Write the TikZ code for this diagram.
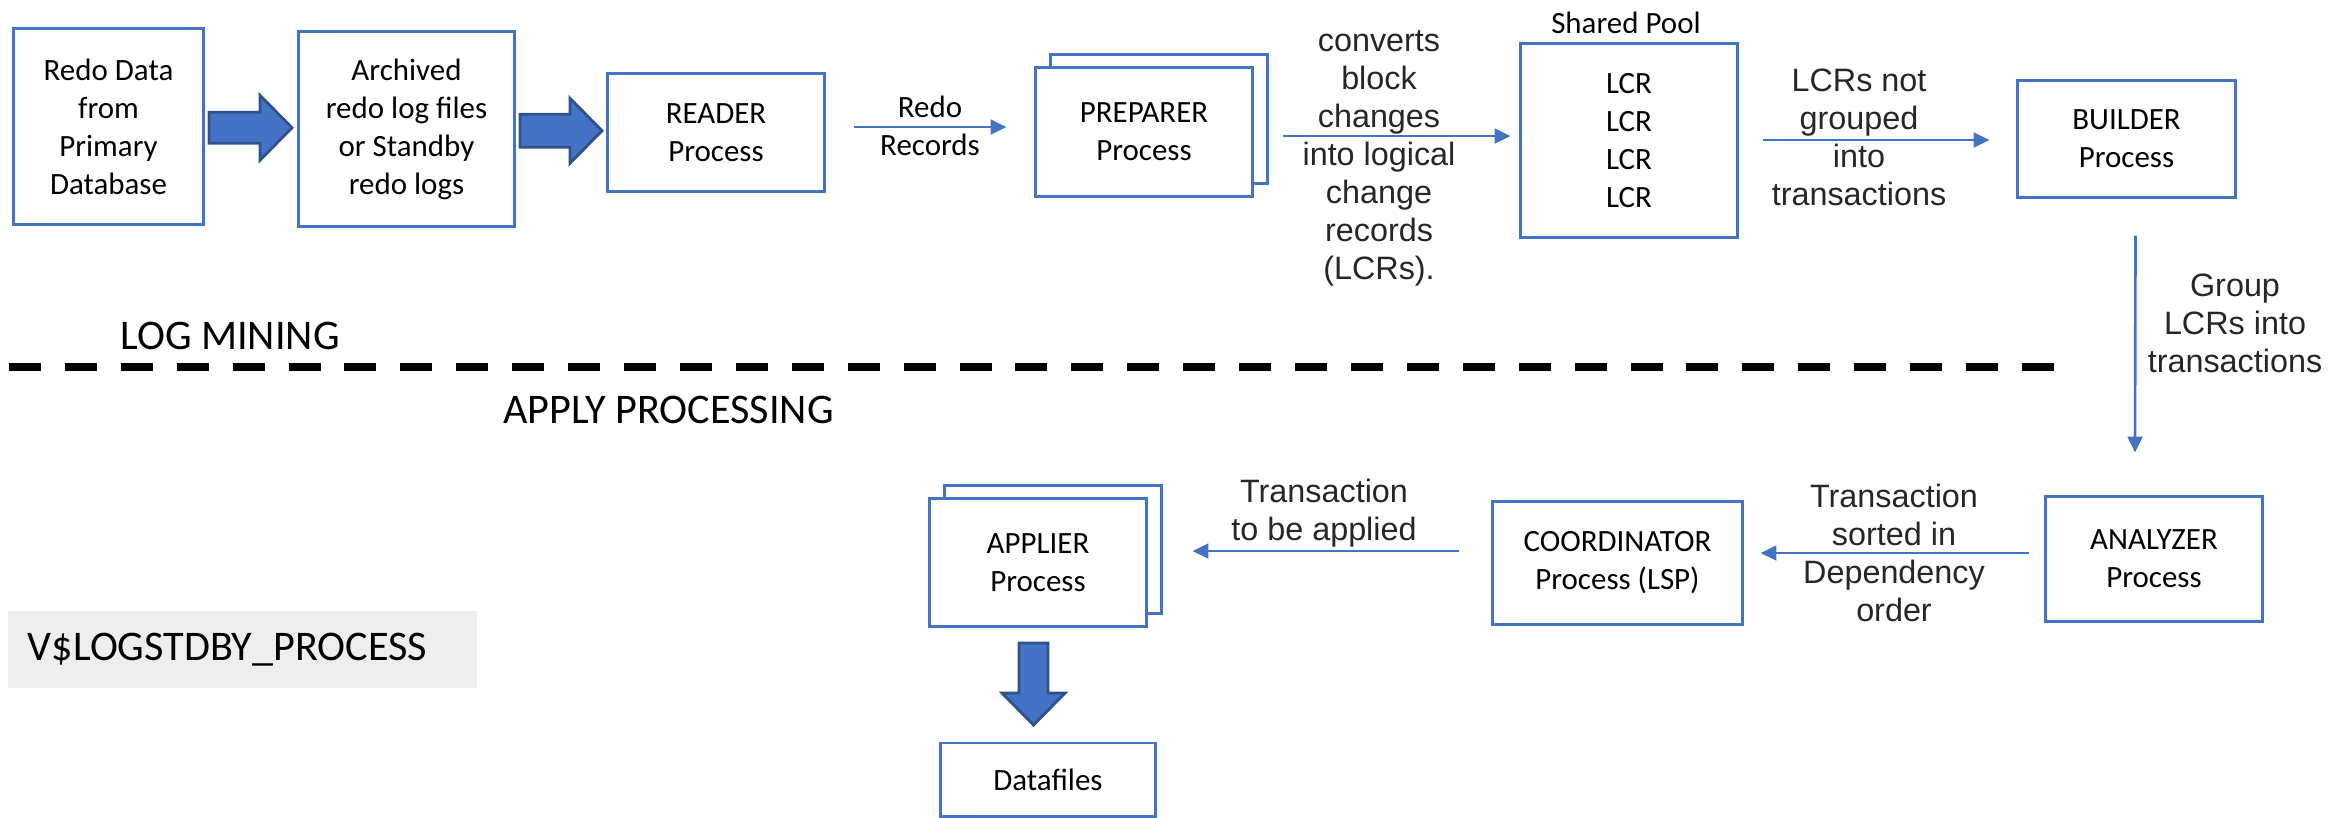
\documentclass[tikz,border=0pt]{standalone}
\usepackage{fontspec}
\setmainfont{Carlito}
\newfontfamily\labelfont{Liberation Sans}
\usetikzlibrary{arrows.meta,positioning,calc}
\definecolor{OfficeBlue}{RGB}{68,114,196}
\definecolor{ArrowEdge}{RGB}{47,82,143}
\definecolor{PanelGray}{RGB}{238,238,238}
\definecolor{Ink}{RGB}{38,38,38}
\tikzset{
  >=Latex,
  box/.style={draw=OfficeBlue,line width=.85pt,fill=white,align=center,text=black,font=\fontsize{8.8}{10.8}\selectfont,inner sep=0pt},
  boxtext/.style={align=center,text=black,font=\fontsize{8.8}{10.8}\selectfont,inner sep=0pt},
  note/.style={align=center,text=Ink,font=\labelfont\fontsize{9.2}{10.8}\selectfont,inner sep=0pt},
  heading/.style={text=black,font=\fontsize{12}{14}\selectfont,inner sep=0pt},
  panel/.style={fill=PanelGray,minimum height=.77cm,text width=4.29cm,inner xsep=.2cm,inner ysep=0pt,align=left,font=\fontsize{12}{14}\selectfont},
  flow/.style={-{Triangle[length=4.5pt,width=4.2pt]},line width=.75pt,draw=OfficeBlue},
  blockarrow/.style={draw=ArrowEdge,fill=OfficeBlue,line width=.8pt,line join=miter},
  divider/.style={line width=2.1pt,dash pattern=on 9.1pt off 6.8pt}
}

\begin{document}
\begin{tikzpicture}[x=.01cm,y=-.01cm]
  \useasboundingbox (0,0) rectangle (2348,817);
  % log mining row
  \node[box,minimum width=1.89cm,minimum height=1.95cm] (src) at (108.5,126.5) {Redo Data\\from\\Primary\\Database};
  \node[box,minimum width=2.15cm,minimum height=1.94cm] (arch) at (406.5,129) {Archived\\redo log files\\or Standby\\redo logs};
  \node[box,minimum width=2.16cm,minimum height=1.17cm] (reader) at (716,132.5) {READER\\Process};
  \node[box,minimum width=2.16cm,minimum height=1.28cm] (prepback) at (1159,119) {};
  \node[box,minimum width=2.16cm,minimum height=1.28cm] (prep) at (1144,132) {PREPARER\\Process};
  \node[box,minimum width=2.16cm,minimum height=1.93cm] (pool) at (1629,140.5) {LCR\\LCR\\LCR\\LCR};
  \node[boxtext] (poolname) at (1626,23) {Shared Pool};
  \node[box,minimum width=2.17cm,minimum height=1.16cm] (builder) at (2126.5,139) {BUILDER\\Process};
  % apply row
  \node[box,minimum width=2.16cm,minimum height=1.24cm] (analyzer) at (2154,559) {ANALYZER\\Process};
  \node[box,minimum width=2.49cm,minimum height=1.22cm] (coord) at (1617.5,563) {COORDINATOR\\Process (LSP)};
  \node[box,minimum width=2.16cm,minimum height=1.27cm] (applback) at (1053,549.5) {};
  \node[box,minimum width=2.16cm,minimum height=1.27cm] (appl) at (1038,562.5) {APPLIER\\Process};
  \node[box,minimum width=2.14cm,minimum height=.73cm] (data) at (1048,779.5) {Datafiles};
  \node[panel] (view) at (242.5,649.5) {V\$LOGSTDBY\_PROCESS};

  % section split
  \node[heading] (mining) at (230,336) {LOG MINING};
  \node[heading] (applying) at (668.5,410) {APPLY PROCESSING};
  \draw[divider] (9,367) -- (2058,367);

  % fat arrows
  \coordinate (a1) at ($(src.east)!.5!(arch.west)$);
  \coordinate (a2) at ($(arch.east)!.5!(reader.west)$);
  \coordinate (a3) at ($(appl.south)!.5!(data.north)+(-9.5,0)$);
  \draw[blockarrow,shift={(a1)}] (-42,-15.5) -- (9,-15.5) -- (9,-32.5) -- (41,0) -- (9,32.5) -- (9,15.5) -- (-42,15.5) -- cycle;
  \draw[blockarrow,shift={(a2)}] (-41,-16.5) -- (9,-16.5) -- (9,-32.5) -- (41,0) -- (9,32.5) -- (9,16.5) -- (-41,16.5) -- cycle;
  \draw[blockarrow,shift={(a3)}] (-14.5,-41.5) -- (14.5,-41.5) -- (14.5,8.5) -- (31.5,8.5) -- (0,40.5) -- (-31.5,8.5) -- (-14.5,8.5) -- cycle;

  % thin connectors
  \draw[flow] ([shift={(28,-5.5)}]reader.east) -- ([shift={(-28,-5)}]prep.west);
  \draw[flow] ([shift={(29,4)}]prep.east) -- ([shift={(-9,-4.5)}]pool.west);
  \draw[flow] ([shift={(24,-.5)}]pool.east) -- ([shift={(-27,1)}]builder.west);
  \draw[flow] ([shift={(9,37)}]builder.south) -- ([shift={(-19,-43)}]analyzer.north);
  \draw[flow] ([shift={(-15,-6)}]analyzer.west) -- ([shift={(17,-10)}]coord.east);
  \draw[flow] ([shift={(-32,-12)}]coord.west) -- ([shift={(45,-11.5)}]appl.east);

  % connector labels
  \node[boxtext] (recslbl) at (930,126) {Redo\\Records};
  \node[note] (convlbl) at (1379,158) {converts\\block\\changes\\into logical\\change\\records\\(LCRs).};
  \node[note] (ungrouplbl) at (1859,137) {LCRs not\\grouped\\into\\transactions};
  \node[note] (grouplbl) at (2235,323) {Group\\LCRs into\\transactions};
  \node[note] (sortlbl) at (1894,553) {Transaction\\sorted in\\Dependency\\order};
  \node[note] (applylbl) at (1324,513.5) {Transaction\\to be applied};
\end{tikzpicture}
\end{document}
